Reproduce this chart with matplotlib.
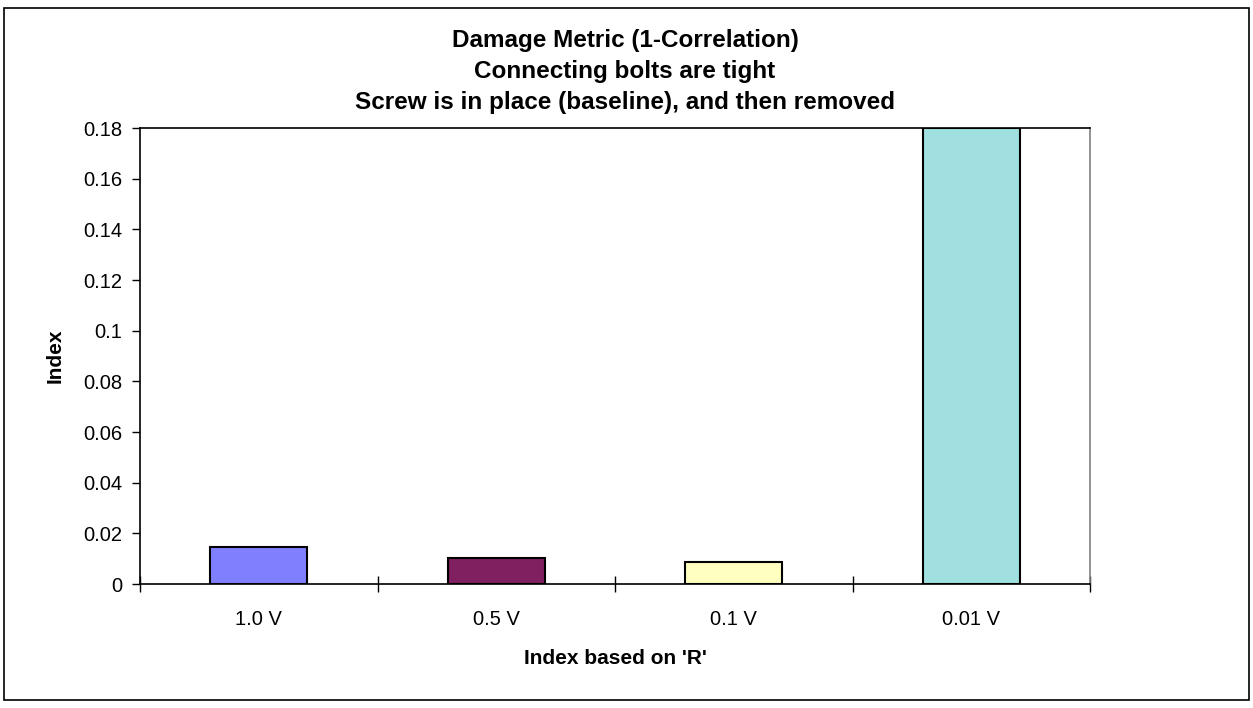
import matplotlib.pyplot as plt
import numpy as np

plt.rcParams['font.family'] = ['Liberation Sans', 'DejaVu Sans']

categories = ['1.0 V', '0.5 V', '0.1 V', '0.01 V']
values = [0.0145, 0.0103, 0.0088, 0.18]
colors = ['#8080FF', '#802060', '#FFFFC0', '#A0E0E0']
y_ticks = [0, 0.02, 0.04, 0.06, 0.08, 0.1, 0.12, 0.14, 0.16, 0.18]
y_labels = ['0', '0.02', '0.04', '0.06', '0.08', '0.1', '0.12', '0.14', '0.16', '0.18']
title_lines = ['Damage Metric (1-Correlation)',
               'Connecting bolts are tight',
               'Screw is in place (baseline), and then removed']

W, H = 1253, 708
fig = plt.figure(figsize=(W / 100, H / 100), dpi=100)
ax = fig.add_axes([140 / W, 1 - 584 / H, 950 / W, 456 / H])

# outer chart border
fig.patches.append(plt.Rectangle((4 / W, 8 / H), 1245 / W, 692 / H,
                                 transform=fig.transFigure, fill=False,
                                 edgecolor='black', linewidth=1.2))

x = np.arange(len(categories))
ax.bar(x, values, width=0.41, color=colors, edgecolor='black', linewidth=1.5, zorder=3)

ax.set_xlim(-0.5, len(categories) - 0.5)
ax.set_ylim(0, 0.18)
ax.set_yticks(y_ticks, y_labels)
ax.set_xticks(x, categories)
ax.set_xticks(np.arange(-0.5, len(categories)), minor=True)
ax.tick_params(axis='x', which='major', length=0, pad=19, labelsize=14.5)
ax.tick_params(axis='x', which='minor', length=12, direction='inout', width=1)
ax.tick_params(axis='y', length=6, width=1, direction='out', labelsize=14.5, pad=7)

for s in ['left', 'bottom', 'top']:
    ax.spines[s].set_color('black')
    ax.spines[s].set_linewidth(1.2)
ax.spines['right'].set_color('#808080')
ax.spines['right'].set_linewidth(1.2)

fig.text(615 / W, 1 - 658 / H, "Index based on 'R'", ha='center', va='center',
         fontweight='bold', fontsize=15)
fig.text(55 / W, 1 - 356 / H, 'Index', ha='center', va='center', rotation=90,
         fontweight='bold', fontsize=15)

for i, line in enumerate(title_lines):
    fig.text(625 / W, 1 - (47.5 + 30.5 * i) / H, line, ha='center', va='baseline',
             fontweight='bold', fontsize=17.5)

fig.savefig('out.png', dpi=100)
